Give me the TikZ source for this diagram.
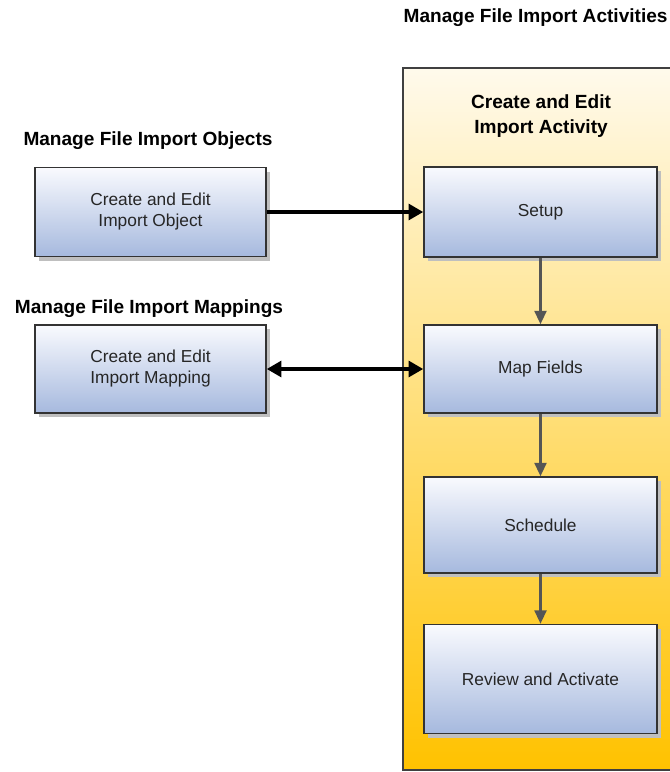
\documentclass[tikz,border=0pt]{standalone}
\usepackage{fontspec}
\setmainfont{Liberation Sans}
\usepackage{tikz}
\usetikzlibrary{arrows.meta,positioning,shadows}

\definecolor{boxtop}{HTML}{F9FAFE}
\definecolor{boxbottom}{HTML}{A6B9DE}
\definecolor{paneltop}{HTML}{FFFAEC}
\definecolor{panelbottom}{HTML}{FFC200}
\definecolor{flowgray}{HTML}{555555}

\tikzset{
  taskbox/.style={draw=black!80,line width=1.2pt,top color=boxtop,bottom color=boxbottom,
    minimum width=173.25pt,align=center,font=\fontsize{13}{15.75}\selectfont,text=black!85,
    drop shadow={shadow xshift=3pt,shadow yshift=-3pt,fill=black!25,opacity=1}},
  grouptitle/.style={font=\bfseries\fontsize{14.3}{18.75}\selectfont,align=center},
  flowarrow/.style={draw=flowgray,line width=1.6pt,-{Triangle[length=10pt,width=9pt]}},
  linkarrow/.style={draw=black,line width=2.4pt,{Triangle[length=11pt,width=12pt]}-{Triangle[length=11pt,width=12pt]}}
}

\begin{document}
\begin{tikzpicture}[x=0.75pt,y=-0.75pt,>=Latex]
\useasboundingbox (0,0) rectangle (670,772);

% activity panel
\draw[draw=black!75,line width=1pt,top color=paneltop,bottom color=panelbottom] (403,68) rectangle (680,770);
\node[grouptitle,anchor=west] (acttitle) at (399,18) {Manage File Import Activities};
\node[grouptitle] (edittitle) at (541,116) {Create and Edit\\Import Activity};

% left side
\node[grouptitle] (objtitle) at (148,141) {Manage File Import Objects};
\node[grouptitle] (maptitle) at (149,309) {Manage File Import Mappings};
\node[taskbox,minimum height=66.75pt] (obj) at (150.5,212) {Create and Edit\\Import Object};
\node[taskbox,minimum height=66pt] (mapping) at (150.5,369) {Create and Edit\\Import Mapping};

% activity steps
\node[taskbox,minimum width=174.75pt,minimum height=67.5pt] (setup) at (540.5,212) {Setup};
\node[taskbox,minimum width=174.75pt,minimum height=66pt] (fields) at (540.5,369) {Map Fields};
\node[taskbox,minimum width=174.75pt,minimum height=72pt] (schedule) at (540.5,525) {Schedule};
\node[taskbox,minimum width=174.75pt,minimum height=81.75pt] (review) at (540.5,679) {Review and Activate};

\draw[flowarrow] (setup) -- (fields);
\draw[flowarrow] (fields) -- (schedule);
\draw[flowarrow] (schedule) -- (review);

\draw[black,line width=2.4pt,-{Triangle[length=11pt,width=12pt]}] (obj) -- (setup);
\draw[linkarrow] (mapping) -- (fields);
\end{tikzpicture}
\end{document}
